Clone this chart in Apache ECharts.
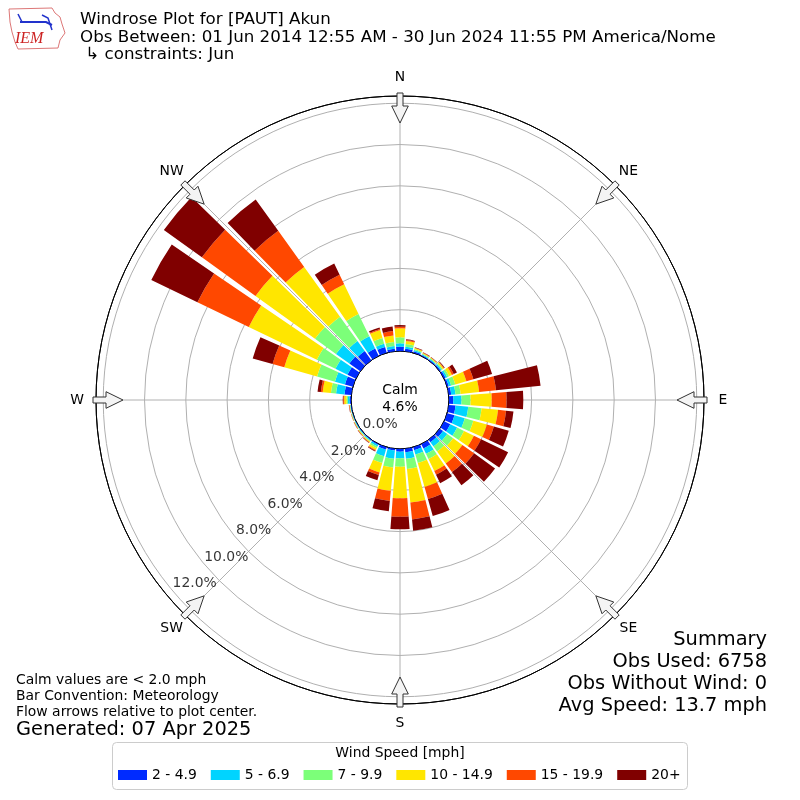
<!DOCTYPE html>
<html><head><meta charset="utf-8">
<script src="https://cdn.jsdelivr.net/npm/echarts@6/dist/echarts.min.js"></script>
<style>html,body{margin:0;padding:0;background:#fff}#c{width:800px;height:800px}</style>
</head><body><div id="c"></div>
<script>
// ---- data ----
const directions = [0,10,20,30,40,50,60,70,80,90,100,110,120,130,140,150,160,170,180,190,200,210,220,230,240,250,260,270,280,290,300,310,320,330,340,350];
const speedBins = ['2 - 4.9','5 - 6.9','7 - 9.9','10 - 14.9','15 - 19.9','20+'];
const binColors = ['#002bff','#00d4ff','#7cff79','#ffe600','#ff4800','#800000'];
const pct2to5   = [.21,.12,.08,.05,.05,.06,.08,.08,.12,.21,.33,.37,.33,.20,.15,.24,.15,.17,.13,.09,.12,.05,.03,.03,.02,.02,.03,.07,.33,.40,.45,.65,.55,.40,.29,.12];
const pct5to7   = [.16,.10,.06,.04,.04,.06,.09,.12,.21,.40,.62,.52,.37,.25,.25,.28,.22,.32,.32,.40,.34,.08,.04,.03,.03,.02,.02,.08,.41,.50,.65,.80,.60,.65,.17,.13];
const pct7to10  = [.29,.13,.05,.04,.04,.06,.10,.21,.25,.44,.65,.43,.37,.35,.30,.28,.43,.50,.41,.42,.34,.09,.04,.03,.02,.02,.02,.07,.25,.90,1.00,1.25,1.45,1.20,.29,.20];
const pct10to15 = [.44,.15,.05,.03,.03,.06,.15,.56,.90,1.02,.80,.68,.53,.55,.72,.65,1.20,1.63,1.53,1.14,.47,.10,.04,.03,.02,.02,.02,.11,.40,1.65,3.66,3.55,2.97,1.60,.40,.32];
const pct15to20 = [.08,.05,.02,.02,.02,.03,.10,.35,.82,.72,.39,.35,.39,.70,.51,.19,.61,.82,.89,.49,.13,.04,.03,.02,.02,.01,.02,.05,.09,.59,2.76,3.20,2.15,.51,.05,.21];
const pct20plus = [.08,.03,.02,.02,.02,.03,.17,.94,2.17,.81,.36,.75,1.45,1.25,.79,.46,.86,.55,.61,.50,.26,.03,.02,.01,.01,.01,.01,.02,.16,1.00,2.48,2.27,1.87,.60,.08,.22];
const radialTicks = [0,2,4,6,8,10,12];
const radialTickLabels = ['0.0%','2.0%','4.0%','6.0%','8.0%','10.0%','12.0%'];
const radialLabelBearing = 230;
const compassNames = ['N','NE','E','SE','S','SW','W','NW'];
const compassBearings = [0,45,90,135,180,225,270,315];
const calmText = ['Calm','4.6%'];
const titleLines = ['Windrose Plot for [PAUT] Akun','Obs Between: 01 Jun 2014 12:55 AM - 30 Jun 2024 11:55 PM America/Nome',' \u21b3 constraints: Jun'];
const noteLines = ['Calm values are < 2.0 mph','Bar Convention: Meteorology','Flow arrows relative to plot center.'];
const generatedText = 'Generated: 07 Apr 2025';
const summaryLines = ['Summary','Obs Used: 6758','Obs Without Wind: 0','Avg Speed: 13.7 mph'];
const legendTitle = 'Wind Speed [mph]';
const seriesValues = [pct2to5,pct5to7,pct7to10,pct10to15,pct15to20,pct20plus];

// ---- layout ----
const CX = 400, CY = 400, R0 = 49, R1 = 304, RMAX = 12.35;
const FONT = 'DejaVu Sans';
const F10 = '13.9px ', F12 = '16.7px ', F14 = '19.4px ';

function pt(bearing, r, p) {
  const t = bearing * Math.PI / 180;
  const ux = Math.sin(t), uy = -Math.cos(t), vx = Math.cos(t), vy = Math.sin(t);
  return [CX + r * ux + p * vx, CY + r * uy + p * vy];
}

const graphics = [];
compassBearings.forEach(b => {
  const pts = [[307,-3],[307,3],[294,3],[294,8.3],[277,0],[294,-8.3],[294,-3]].map(a => pt(b, a[0], a[1]));
  graphics.push({type:'polygon', z:100, shape:{points:pts}, style:{fill:'#f4f4f4', stroke:'#333', lineWidth:1}});
});
compassNames.forEach((n, i) => {
  const p = pt(compassBearings[i], 323, 0);
  graphics.push({type:'text', z:100, x:p[0], y:p[1], style:{text:n, font:F10 + FONT, fill:'#000', align:'center', verticalAlign:'middle'}});
});
graphics.push({type:'text', z:100, x:CX, y:390, style:{text:calmText[0], font:F10 + FONT, fill:'#000', align:'center', verticalAlign:'middle'}});
graphics.push({type:'text', z:100, x:CX, y:407, style:{text:calmText[1], font:F10 + FONT, fill:'#000', align:'center', verticalAlign:'middle'}});
titleLines.forEach((t, i) => {
  graphics.push({type:'text', x:80, y:20 + i * 17.5, style:{text:t, font:F12 + FONT, fill:'#000', align:'left', verticalAlign:'middle'}});
});
noteLines.forEach((t, i) => {
  graphics.push({type:'text', x:16, y:680 + i * 16, style:{text:t, font:F10 + FONT, fill:'#000', align:'left', verticalAlign:'middle'}});
});
graphics.push({type:'text', x:16, y:730, style:{text:generatedText, font:F14 + FONT, fill:'#000', align:'left', verticalAlign:'middle'}});
summaryLines.forEach((t, i) => {
  graphics.push({type:'text', x:767, y:640 + i * 22, style:{text:t, font:F14 + FONT, fill:'#000', align:'right', verticalAlign:'middle'}});
});
graphics.push({type:'rect', z:-1, shape:{x:112.5, y:742.5, width:575, height:47, r:4}, style:{fill:'#fff', stroke:'#cccccc', lineWidth:1}});
graphics.push({type:'text', x:400, y:753, style:{text:legendTitle, font:F10 + FONT, fill:'#000', align:'center', verticalAlign:'middle'}});
// IEM logo (simplified)
graphics.push({type:'polygon', shape:{points:[[9,9],[52,8],[55,13],[60,17],[62,24],[65,33],[60,40],[58,48],[18,49],[15,42],[12,32],[10,22]]}, style:{fill:'#fff', stroke:'#d77', lineWidth:1}});
graphics.push({type:'polyline', shape:{points:[[20,22],[46,22],[52,25]]}, style:{stroke:'#2233cc', lineWidth:2, fill:null}});
graphics.push({type:'polyline', shape:{points:[[18,14],[22,22]]}, style:{stroke:'#2233cc', lineWidth:1.5, fill:null}});
graphics.push({type:'polyline', shape:{points:[[42,15],[48,18],[52,30]]}, style:{stroke:'#2233cc', lineWidth:1.5, fill:null}});
graphics.push({type:'text', x:15, y:39, style:{text:'IEM', font:'italic 16px "Liberation Serif"', fill:'#cc2222', align:'left', verticalAlign:'middle'}});

const series = speedBins.map((name, k) => ({
  name: name, type:'bar', coordinateSystem:'polar', polarIndex:0, stack:'wind',
  data: seriesValues[k], barCategoryGap:'15%', silent:true,
  itemStyle:{color:binColors[k]}
}));
series.push({
  type:'scatter', coordinateSystem:'polar', polarIndex:1, silent:true, symbolSize:0.1,
  itemStyle:{color:'rgba(0,0,0,0)'},
  data: radialTicks.map((v, i) => ({value:[v, radialLabelBearing], label:{formatter: radialTickLabels[i]}})),
  label:{show:true, position:[0,0], align:'left', verticalAlign:'bottom', fontFamily:FONT, fontSize:13.9, color:'#000'},
  z:10
});

const chart = echarts.init(document.getElementById('c'), null, {renderer:'canvas'});
chart.setOption({
  animation:false,
  backgroundColor:'#fff',
  textStyle:{fontFamily:FONT},
  polar:[
    {center:[CX, CY], radius:[R0, R1]},
    {center:[CX, CY], radius:[R0, R1]}
  ],
  angleAxis:[
    {polarIndex:0, type:'category', data:directions, startAngle:95, clockwise:true, boundaryGap:true,
     axisLine:{show:false}, axisTick:{show:false}, axisLabel:{show:false}, splitLine:{show:false}},
    {polarIndex:1, type:'value', min:0, max:360, interval:45, startAngle:90, clockwise:true,
     axisLine:{show:true, lineStyle:{color:'#000', width:1}}, axisTick:{show:false}, axisLabel:{show:false},
     splitLine:{show:true, lineStyle:{color:'#b0b0b0', width:1}}}
  ],
  radiusAxis:[
    {polarIndex:0, min:0, max:RMAX, axisLine:{show:false}, axisTick:{show:false}, axisLabel:{show:false}, splitLine:{show:false}},
    {polarIndex:1, min:0, max:RMAX, interval:2, axisLine:{show:false}, axisTick:{show:false}, axisLabel:{show:false},
     splitLine:{show:true, lineStyle:{color:['#000','#b0b0b0','#b0b0b0','#b0b0b0','#b0b0b0','#b0b0b0','#b0b0b0','#000'], width:1}}}
  ],
  legend:{
    data:speedBins, left:113, top:763, icon:'rect', itemWidth:29, itemHeight:10, itemGap:14,
    textStyle:{fontSize:13.9, color:'#000', fontFamily:FONT}, selectedMode:false
  },
  graphic:graphics,
  series:series
});
</script>
</body></html>
